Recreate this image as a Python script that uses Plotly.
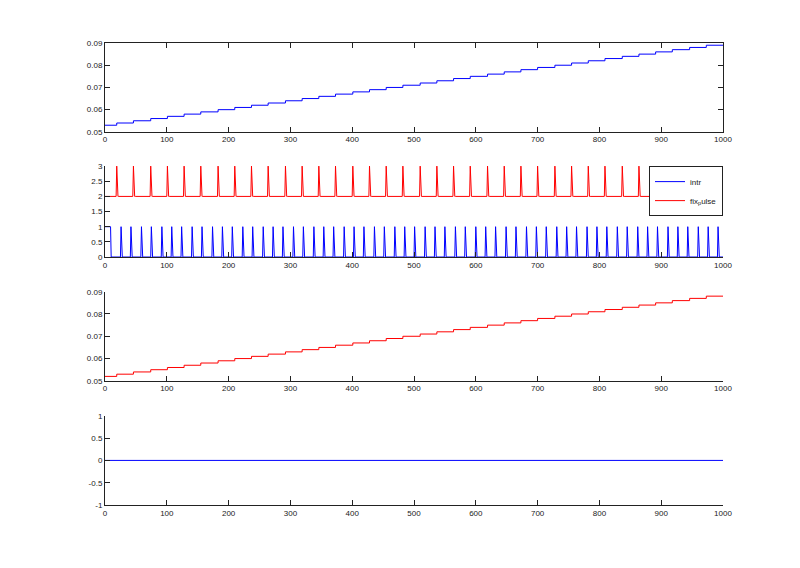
import numpy as np
import plotly.graph_objects as go

# time axis (samples)
t_end = 1000

# pulse times of fix_pulse (also where the two step curves go up)
pulse_times = [19, 46, 74, 101, 128, 155, 183, 210, 237, 264, 292, 319, 346,
               373, 401, 428, 455, 482, 510, 537, 564, 591, 619, 646, 673, 700,
               728, 755, 782, 809, 837, 864, 891, 918, 946, 973, 1000]

# interrupt spike times (intr is high from 0 until the first one)
intr_times = [10, 26, 42, 59, 75, 92, 108, 124, 141, 157, 174, 190, 206, 223,
              239, 256, 272, 288, 305, 321, 338, 354, 370, 387, 403, 419, 436,
              452, 469, 485, 501, 518, 534, 550, 567, 583, 600, 616, 632, 649,
              665, 682, 698, 714, 731, 747, 763, 780, 796, 812, 829, 845, 862,
              878, 894, 911, 927, 943, 960, 976, 992]

# step levels, top panel (blue) and third panel (red)
levels_top = [0.053, 0.054, 0.055, 0.056, 0.057, 0.058, 0.059, 0.060, 0.061,
              0.062, 0.063, 0.064, 0.065, 0.066, 0.067, 0.068, 0.069, 0.070,
              0.071, 0.072, 0.073, 0.074, 0.075, 0.076, 0.077, 0.078, 0.079,
              0.080, 0.081, 0.082, 0.083, 0.084, 0.085, 0.086, 0.087, 0.088,
              0.089]
levels_mid = [0.052, 0.053, 0.054, 0.055, 0.056, 0.057, 0.058, 0.059, 0.060,
              0.061, 0.062, 0.063, 0.064, 0.065, 0.066, 0.067, 0.068, 0.069,
              0.070, 0.071, 0.072, 0.073, 0.074, 0.075, 0.076, 0.077, 0.078,
              0.079, 0.080, 0.081, 0.082, 0.083, 0.084, 0.085, 0.086, 0.087,
              0.088]

# bottom panel: flat signal
bottom_value = 0.0

pulse_offset = 2  # fix_pulse is drawn shifted up by 2

t = np.arange(t_end + 1)
intr = np.zeros(t_end + 1)
intr[:intr_times[0]] = 1
intr[intr_times[1:]] = 1
fix_pulse = np.zeros(t_end + 1)
fix_pulse[pulse_times] = 1

step_x = [0] + pulse_times[:len(levels_top) - 1] + [t_end]
step_top = levels_top + [levels_top[-1]]
step_mid = levels_mid + [levels_mid[-1]]

BLUE = "#0000ff"
RED = "#ff0000"

fig = go.Figure()
fig.add_trace(go.Scatter(x=step_x, y=step_top, mode="lines", line_shape="hv",
                         line=dict(color=BLUE, width=1), showlegend=False,
                         xaxis="x", yaxis="y"))
fig.add_trace(go.Scatter(x=t, y=intr, mode="lines", name="intr",
                         line=dict(color=BLUE, width=1),
                         xaxis="x2", yaxis="y2"))
fig.add_trace(go.Scatter(x=t, y=fix_pulse + pulse_offset, mode="lines",
                         name="fix<sub>p</sub>ulse",
                         line=dict(color=RED, width=1),
                         xaxis="x2", yaxis="y2"))
fig.add_trace(go.Scatter(x=step_x, y=step_mid, mode="lines", line_shape="hv",
                         line=dict(color=RED, width=1), showlegend=False,
                         xaxis="x3", yaxis="y3"))
fig.add_trace(go.Scatter(x=[0, t_end], y=[bottom_value, bottom_value],
                         mode="lines", line=dict(color=BLUE, width=1),
                         showlegend=False, xaxis="x4", yaxis="y4"))

tick_font = dict(family="Liberation Sans", size=8, color="#222")
axis_common = dict(showline=True, linecolor="#222", linewidth=1,
                   ticks="inside", ticklen=5, tickcolor="#222",
                   showgrid=False, zeroline=False, tickfont=tick_font)

xaxis = dict(axis_common, range=[0, t_end], dtick=100, tick0=0)

domains = {
    "": [0.8076, 1.0],
    "2": [0.5368, 0.7335],
    "3": [0.2687, 0.4617],
    "4": [0.0, 0.1930],
}

# the page body adds 8px on the left and top, margins allow for it
layout = dict(
    width=800, height=568,
    margin=dict(l=97, r=85, t=35, b=71),
    paper_bgcolor="white", plot_bgcolor="white",
    legend=dict(x=1, y=0.7335, xanchor="right", yanchor="top",
                bgcolor="white", bordercolor="#222", borderwidth=1,
                font=dict(family="Liberation Sans", size=8, color="#222"),
                tracegroupgap=0, itemwidth=30),
)

yranges = {"": [0.05, 0.09], "2": [0, 3], "3": [0.05, 0.09], "4": [-1, 1]}
yticks = {
    "": [0.05, 0.06, 0.07, 0.08, 0.09],
    "2": [0, 0.5, 1, 1.5, 2, 2.5, 3],
    "3": [0.05, 0.06, 0.07, 0.08, 0.09],
    "4": [-1, -0.5, 0, 0.5, 1],
}
yticktext = {
    "": ["0.05", "0.06", "0.07", "0.08", "0.09"],
    "2": ["0", "0.5", "1", "1.5", "2", "2.5", "3"],
    "3": ["0.05", "0.06", "0.07", "0.08", "0.09"],
    "4": ["-1", "-0.5", "0", "0.5", "1"],
}

for k in ["", "2", "3", "4"]:
    xa = dict(xaxis, anchor="y" + k)
    ya = dict(axis_common, anchor="x" + k, domain=domains[k],
              range=yranges[k], tickvals=yticks[k], ticktext=yticktext[k])
    if k == "":
        xa["mirror"] = "ticks"
        ya["mirror"] = "ticks"
    layout["xaxis" + k] = xa
    layout["yaxis" + k] = ya

fig.update_layout(**layout)
fig.write_html("out.html")
